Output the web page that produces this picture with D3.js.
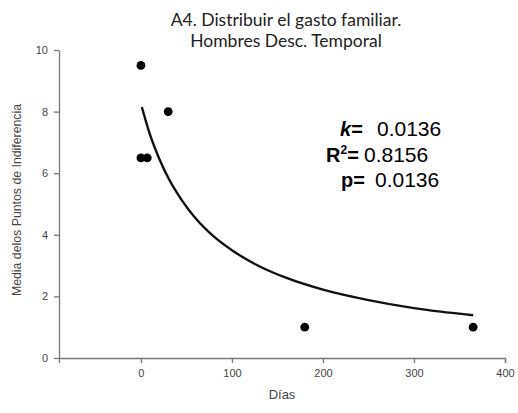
<!DOCTYPE html>
<html>
<head>
<meta charset="utf-8">
<script src="https://cdn.jsdelivr.net/npm/d3@7"></script>
<style>
  body { margin: 0; background: #fff; }
  svg { display: block; }
  .tick text { font-family: "Liberation Sans", Arial, sans-serif; font-size: 11px; fill: #444; }
  .domain, .tick line { stroke: #777; stroke-width: 1.3; }
</style>
</head>
<body>
<svg id="chart" width="518" height="413"></svg>
<script>
// observed points (days, mean indifference point)
const pointDays = [0, 0, 7, 30, 180, 365];
const pointVals = [9.5, 6.5, 6.5, 8.0, 1.0, 1.0];

// fitted curve
const curveDays = [1, 10, 20, 30, 45, 60, 80, 100, 130, 160, 200, 250, 300, 365];
const curveVals = [8.15, 7.25, 6.48, 5.85, 5.12, 4.54, 3.95, 3.5, 2.98, 2.6, 2.22, 1.88, 1.62, 1.39];

const xTicks = [0, 100, 200, 300, 400];
const yTicks = [0, 2, 4, 6, 8, 10];

const titleLines = ["A4. Distribuir el gasto familiar.", "Hombres Desc. Temporal"];
const statLabels = ["k=", "R", "p="];
const statValues = ["0.0136", "0.8156", "0.0136"];

const svg = d3.select('#chart');
const pLeft = 59, pRight = 505, pTop = 50, pBottom = 358;

const x = d3.scaleLinear().domain([-90, 400]).range([pLeft, pRight]);
const y = d3.scaleLinear().domain([0, 10]).range([pBottom, pTop]);

// axes, sigmaplot style: outward ticks
svg.append('g')
  .attr('transform', `translate(0,${pBottom})`)
  .call(d3.axisBottom(x).tickValues(xTicks).tickSize(5).tickSizeOuter(5).tickPadding(6));

svg.append('g')
  .attr('transform', `translate(${pLeft},0)`)
  .call(d3.axisLeft(y).tickValues(yTicks).tickSize(5).tickSizeOuter(0).tickPadding(6));

// fitted line
const line = d3.line()
  .x(d => x(d[0]))
  .y(d => y(d[1]))
  .curve(d3.curveMonotoneX);

svg.append('path')
  .datum(curveDays.map((d, i) => [d, curveVals[i]]))
  .attr('d', line)
  .attr('fill', 'none')
  .attr('stroke', '#111')
  .attr('stroke-width', 2.4);

// points
svg.append('g').selectAll('circle')
  .data(pointDays.map((d, i) => [d, pointVals[i]]))
  .enter()
  .append('circle')
  .attr('cx', d => x(d[0]))
  .attr('cy', d => y(d[1]))
  .attr('r', 4.4)
  .attr('fill', '#000');

// title
svg.append('g').selectAll('text')
  .data(titleLines)
  .enter()
  .append('text')
  .attr('x', 286)
  .attr('y', (d, i) => 26 + i * 21)
  .attr('text-anchor', 'middle')
  .style('font-family', 'Lato, "Open Sans", sans-serif')
  .style('font-size', '17.5px')
  .style('fill', '#222')
  .text(d => d);

// axis titles
svg.append('text')
  .attr('x', 282)
  .attr('y', 399)
  .attr('text-anchor', 'middle')
  .style('font-family', '"Liberation Sans", Arial, sans-serif')
  .style('font-size', '13px')
  .style('fill', '#444')
  .text('Días');

svg.append('text')
  .attr('transform', 'translate(21,200) rotate(-90)')
  .attr('text-anchor', 'middle')
  .style('font-family', '"Liberation Sans", Arial, sans-serif')
  .style('font-size', '12.3px')
  .style('fill', '#444')
  .text('Media delos Puntos de Indiferencia');

// fit statistics
const stats = svg.append('g')
  .style('font-family', '"Liberation Sans", Arial, sans-serif')
  .style('font-size', '20px')
  .style('fill', '#000');

const k = stats.append('text').attr('x', 340).attr('y', 136);
k.append('tspan').style('font-weight', 'bold').style('font-style', 'italic').text('k');
k.append('tspan').style('font-weight', 'bold').text('=');
k.append('tspan').attr('x', 377).style('font-size', '21px').text(statValues[0]);

const r = stats.append('text').attr('x', 326).attr('y', 161.5);
r.append('tspan').style('font-weight', 'bold').text(statLabels[1]);
r.append('tspan').style('font-weight', 'bold').style('font-size', '12px').attr('dy', -8).text('2');
r.append('tspan').style('font-weight', 'bold').attr('dy', 8).text('=');
r.append('tspan').attr('x', 364).style('font-size', '21px').text(statValues[1]);

const p = stats.append('text').attr('x', 341).attr('y', 187);
p.append('tspan').style('font-weight', 'bold').text(statLabels[2]);
p.append('tspan').attr('x', 375).style('font-size', '21px').text(statValues[2]);
</script>
</body>
</html>
